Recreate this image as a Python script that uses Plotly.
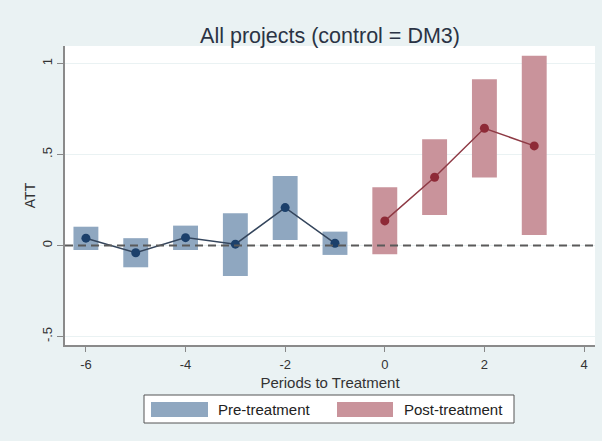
import plotly.graph_objects as go

# ---- data ----
pre_periods = [-6, -5, -4, -3, -2, -1]
pre_att = [0.040, -0.040, 0.043, 0.007, 0.208, 0.012]
pre_lo = [-0.025, -0.120, -0.025, -0.168, 0.030, -0.052]
pre_hi = [0.103, 0.040, 0.109, 0.177, 0.382, 0.076]

post_periods = [0, 1, 2, 3]
post_att = [0.135, 0.375, 0.644, 0.547]
post_lo = [-0.048, 0.168, 0.373, 0.058]
post_hi = [0.320, 0.583, 0.913, 1.043]

x_ticks = [-6, -4, -2, 0, 2, 4]
x_ticktext = ["-6", "-4", "-2", "0", "2", "4"]
y_ticks = [1, 0.5, 0, -0.5]
y_ticktext = ["1", ".5", "0", "-.5"]

title_text = "All projects (control = DM3)"
legend_labels = ["Pre-treatment", "Post-treatment"]

# ---- styles ----
W, H = 602, 441
L, R, T, B = 65, 7, 46, 96
PW, PH = W - L - R, H - T - B
FONT = "Liberation Sans, Arial, sans-serif"
BG = "#EAF2F3"
PRE_FILL = "#8FA7C0"
POST_FILL = "#C9939B"
PRE_DOT = "#1C406B"
POST_DOT = "#8E2A37"
PRE_LINE = "#34455C"
POST_LINE = "#8E3A45"


def px_x(px):
    return (px - L) / PW


def px_y(py):
    return (H - B - py) / PH


fig = go.Figure()

fig.add_trace(go.Bar(
    x=pre_periods,
    y=[h - l for h, l in zip(pre_hi, pre_lo)],
    base=pre_lo,
    width=0.5,
    marker=dict(color=PRE_FILL, line=dict(width=0)),
    name=legend_labels[0],
    showlegend=False,
))
fig.add_trace(go.Bar(
    x=post_periods,
    y=[h - l for h, l in zip(post_hi, post_lo)],
    base=post_lo,
    width=0.5,
    marker=dict(color=POST_FILL, line=dict(width=0)),
    name=legend_labels[1],
    showlegend=False,
))
fig.add_trace(go.Scatter(
    x=pre_periods, y=pre_att, mode="lines+markers",
    line=dict(color=PRE_LINE, width=1.5),
    marker=dict(color=PRE_DOT, size=9),
    showlegend=False,
))
fig.add_trace(go.Scatter(
    x=post_periods, y=post_att, mode="lines+markers",
    line=dict(color=POST_LINE, width=1.5),
    marker=dict(color=POST_DOT, size=9),
    showlegend=False,
))

shapes = [
    dict(type="line", xref="x domain", yref="y", x0=0, x1=1, y0=0, y1=0,
         line=dict(color="#5A5A5A", width=2, dash="8px,5px"), layer="above"),
    # legend box
    dict(type="rect", xref="paper", yref="paper",
         x0=px_x(144), x1=px_x(514), y0=px_y(395), y1=px_y(423),
         fillcolor="white", line=dict(color="#555555", width=1)),
    dict(type="rect", xref="paper", yref="paper",
         x0=px_x(151), x1=px_x(208), y0=px_y(402), y1=px_y(417),
         fillcolor=PRE_FILL, line=dict(width=0)),
    dict(type="rect", xref="paper", yref="paper",
         x0=px_x(337), x1=px_x(393), y0=px_y(402), y1=px_y(417),
         fillcolor=POST_FILL, line=dict(width=0)),
]

annotations = [
    dict(text=legend_labels[0], xref="paper", yref="paper",
         x=px_x(216), y=px_y(409.5), xanchor="left", yanchor="middle",
         showarrow=False, font=dict(family=FONT, size=15, color="#222222")),
    dict(text=legend_labels[1], xref="paper", yref="paper",
         x=px_x(402), y=px_y(409.5), xanchor="left", yanchor="middle",
         showarrow=False, font=dict(family=FONT, size=15, color="#222222")),
]

fig.update_layout(
    width=W, height=H,
    margin=dict(l=L, r=R, t=T, b=B, pad=0),
    paper_bgcolor=BG, plot_bgcolor="white",
    font=dict(family=FONT, color="#333333"),
    title=dict(text=title_text, x=px_x(330), xref="paper", xanchor="center",
               y=1 - 35 / H, yref="container", yanchor="middle",
               font=dict(family=FONT, size=21.5, color="#2A3344")),
    barmode="overlay",
    shapes=shapes,
    annotations=annotations,
    showlegend=False,
)

fig.update_xaxes(
    range=[-6.42, 4.22], tickvals=x_ticks, ticktext=x_ticktext,
    ticks="outside", ticklen=5, tickcolor="#888888", tickwidth=1,
    ticklabelstandoff=2,
    showline=True, linecolor="#8A8A8A", linewidth=1.5,
    showgrid=False, zeroline=False,
    tickfont=dict(family=FONT, size=13, color="#333333"),
    title=dict(text="Periods to Treatment", standoff=6,
               font=dict(family=FONT, size=15, color="#333333")),
)
fig.update_yaxes(
    range=[-0.547, 1.096], tickvals=y_ticks, ticktext=y_ticktext,
    tickangle=-90,
    ticks="outside", ticklen=6, tickcolor="#888888", tickwidth=1,
    showline=True, linecolor="#8A8A8A", linewidth=1.5,
    showgrid=True, gridcolor="#EAF2F3", gridwidth=1,
    zeroline=False,
    tickfont=dict(family=FONT, size=13, color="#333333"),
    title=dict(text="ATT", standoff=1,
               font=dict(family=FONT, size=14, color="#333333")),
)

fig.write_html(
    "out.html",
    config={"displayModeBar": False},
    post_script="document.body.style.margin='0px';"
                "document.body.style.background='#EAF2F3';",
)
